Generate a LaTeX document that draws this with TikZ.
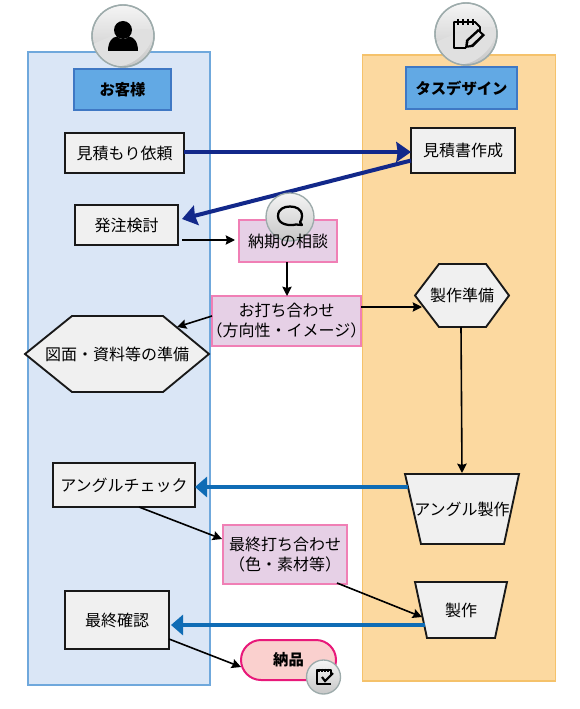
\documentclass[tikz,border=0pt]{standalone}
\usepackage{fontspec}
\setmainfont{Noto Sans CJK JP}
\usetikzlibrary{shapes.misc,arrows.meta,calc}
\definecolor{laneL}{HTML}{DAE6F6}\definecolor{laneLb}{HTML}{6FA8DC}
\definecolor{laneR}{HTML}{FCD9A0}\definecolor{laneRb}{HTML}{F5C26B}
\definecolor{headf}{HTML}{62A9E4}\definecolor{headb}{HTML}{3F78C4}
\definecolor{boxf}{HTML}{F0F0F0}
\definecolor{pinkf}{HTML}{E6D0E6}\definecolor{pinkb}{HTML}{F07FB5}
\definecolor{navy}{HTML}{12288A}\definecolor{blu}{HTML}{0F6CB5}
\definecolor{donef}{HTML}{FAD0CE}\definecolor{doneb}{HTML}{E8197A}
\definecolor{ring}{HTML}{9DABAB}
\tikzset{
  x=0.75pt,y=-0.75pt,
  wh/.style 2 args={minimum width=#1*0.75pt,minimum height=#2*0.75pt},
  every node/.style={font=\fontsize{12}{15}\selectfont,align=center,inner sep=0pt,outer sep=0pt},
  lane/.style={draw=#1,line width=1.1pt},
  headbox/.style={draw=headb,fill=headf,line width=1pt,font=\fontsize{11.5}{14}\selectfont\bfseries},
  box/.style={draw=black!90,fill=boxf,line width=1.4pt,line join=miter},
  pinkbox/.style={draw=pinkb,fill=pinkf,line width=1.5pt},
  ball/.style={circle,draw=ring,line width=1pt,top color=white!96!black,bottom color=black!22},
  arr/.style={draw=black,line width=1.2pt,-{Stealth[length=7pt,width=7pt,inset=1pt]}},
  navyarr/.style={draw=navy,line width=3pt,-{Stealth[length=11pt,width=15pt,inset=1pt]}},
  bluarr/.style={draw=blu,line width=3pt,-{Stealth[length=9pt,width=15pt,inset=0pt]}},
  ink/.style={draw=black,line width=1.4pt,line join=round},
}
\begin{document}
\begin{tikzpicture}
\useasboundingbox (0,0) rectangle (580,709);
\fill[white] (0,0) rectangle (580,709);
% lanes
\node[lane=laneLb,fill=laneL,wh={182}{633}] (laneA) at (119,368.5) {};
\node[lane=laneRb,fill=laneR,wh={193}{626}] (laneB) at (459,368) {};
% headers
\node[headbox,wh={97}{41}] (hA) at (122.5,89.5) {お客様};
\node[headbox,wh={111}{42}] (hB) at (461.5,88) {タスデザイン};
% boxes
\node[box,wh={119}{40}] (irai) at (124.5,153) {見積もり依頼};
\node[box,wh={104}{45}] (mitsu) at (463,150.5) {見積書作成};
\node[box,wh={103}{40}] (kento) at (126.5,225) {発注検討};
\node[pinkbox,wh={98}{42}] (soudan) at (288,241) {};
\node[pinkbox,wh={149}{50}] (uchi) at (286.5,321) {お打ち合わせ\\\makebox[108pt][c]{（方向性・イメージ）}};
% hexagons and trapezia: outline first, then the named text node on it
\draw[box] (415,295.5) -- (439,264) -- (486,264) -- (509,295.5) -- (486,327) -- (439,327) -- cycle;
\node[wh={94}{63}] (jun) at (462,295.5) {製作準備};
\draw[box] (25,354) -- (72,316) -- (163,316) -- (209,354) -- (163,392) -- (72,392) -- cycle;
\node[wh={184}{76}] (zu) at (117,354) {図面・資料等の準備};
\node[box,wh={142}{44}] (chk) at (124,485) {アングルチェック};
\draw[box] (405,474) -- (519,474) -- (504,544) -- (421,544) -- cycle;
\node[wh={114}{70}] (seisakuA) at (462,509) {アングル製作};
\node[pinkbox,wh={124}{59}] (last) at (285,554.5) {最終打ち合わせ\\（色・素材等）};
\draw[box] (415,582) -- (507,582) -- (495,638) -- (427,638) -- cycle;
\node[wh={92}{56}] (seisakuB) at (461,610) {製作};
\node[box,wh={104}{58}] (kakunin) at (117,620) {最終確認};
\node[draw=doneb,fill=donef,line width=1.5pt,rounded rectangle,wh={95}{40},font=\fontsize{11.5}{14}\selectfont\bfseries] (nou) at (288.5,660) {納品};
% connectors
\draw[navyarr] ([shift={(0,-1)}]irai.east) -- ([shift={(0,1.5)}]mitsu.west);
\draw[navyarr] ([shift={(0,10)}]mitsu.west) -- ([shift={(4,-6)}]kento.east);
\draw[arr] ([shift={(4,15)}]kento.east) -- ([shift={(-4,-1)}]soudan.west);
\draw[arr] ([shift={(-1,0)}]soudan.south) -- ([shift={(0.5,0)}]uchi.north);
\draw[arr] ([shift={(0,-5)}]uchi.west) -- ([shift={(-32,11)}]zu.north east);
\draw[arr] ([shift={(0,-14)}]uchi.east) -- ([shift={(7,11.5)}]jun.west);
\draw[arr] ([shift={(-1,0)}]jun.south) -- ([shift={(0,-1)}]seisakuA.north);
\draw[bluarr] ([shift={(3,13)}]seisakuA.north west) -- ([shift={(0,2)}]chk.east);
\draw[arr] ([shift={(15,0)}]chk.south) -- ([shift={(-1,-15.5)}]last.west);
\draw[arr] ([shift={(52,-1)}]last.south) -- ([shift={(7,35)}]seisakuB.north west);
\draw[bluarr] ([shift={(10,43)}]seisakuB.north west) -- ([shift={(2,5)}]kakunin.east);
\draw[arr] ([shift={(0,19)}]kakunin.east) -- ([shift={(0,7)}]nou.west);
% person icon
\node[ball,minimum size=46.5pt] (bA) at (123,36) {};
\fill[black!12] (93.5,44) .. controls (110,36) and (135,26) .. (153.5,30) .. controls (153,50) and (132,67) .. (118,66) .. controls (107,65) and (97,55) .. (93.5,44);
\draw[ring,line width=1pt] (bA) circle (31);
\fill[black] (123,30) circle (9);
\fill[black] (108,51) .. controls (108,42) and (112,37) .. (117,36.5) .. controls (120,40) and (126,40) .. (129,36.5) .. controls (134,37) and (138,42) .. (138,51) -- cycle;
% note icon
\node[ball,minimum size=46.5pt] (bB) at (466,34) {};
\fill[black!12] (436.5,42) .. controls (453,34) and (478,24) .. (496.5,28) .. controls (496,48) and (475,65) .. (461,64) .. controls (450,63) and (440,53) .. (436.5,42);
\draw[ring,line width=1pt] (bB) circle (31);
\draw[ink] (466,48) -- (454,48) -- (454,22) -- (475,22) -- (480,27) -- (480,33);
\foreach \i in {458,463,468,473}{\draw[black,line width=1.2pt] (\i,19) -- (\i,25);}
\fill[black] (465,48) -- (466,40) -- (478,29) -- (485,35) -- (473,47) -- cycle;
\fill[black!12] (468,45.5) -- (468.5,41) -- (478.5,32) -- (481.5,35) -- (471.5,44.5) -- cycle;
% speech icon
\node[ball,minimum size=36pt] (bC) at (290,217) {};
\draw[black,line width=1.7pt,line join=round] (296,224.5) .. controls (290,226) and (278,225) .. (278,216) .. controls (278,209) and (284,206.5) .. (290,206.5) .. controls (296,206.5) and (302,209) .. (302,216) .. controls (302,219) and (301,221) .. (300,222) -- (302,225) -- cycle;
\node at (soudan) {納期の相談};
% check icon
\node[ball,minimum size=25.5pt] (bD) at (323.5,677) {};
\draw[black,line width=1pt,line join=round] (331,684) -- (317,684) -- (317,670) -- (331,670) -- (331,676);
\foreach \i in {319,322,325,328}{\draw[black,line width=.8pt] (\i,668.5) -- (\i,671.5);}
\draw[black,line width=1.6pt] (322,677) -- (325,681) -- (333,673);
\end{tikzpicture}
\end{document}
